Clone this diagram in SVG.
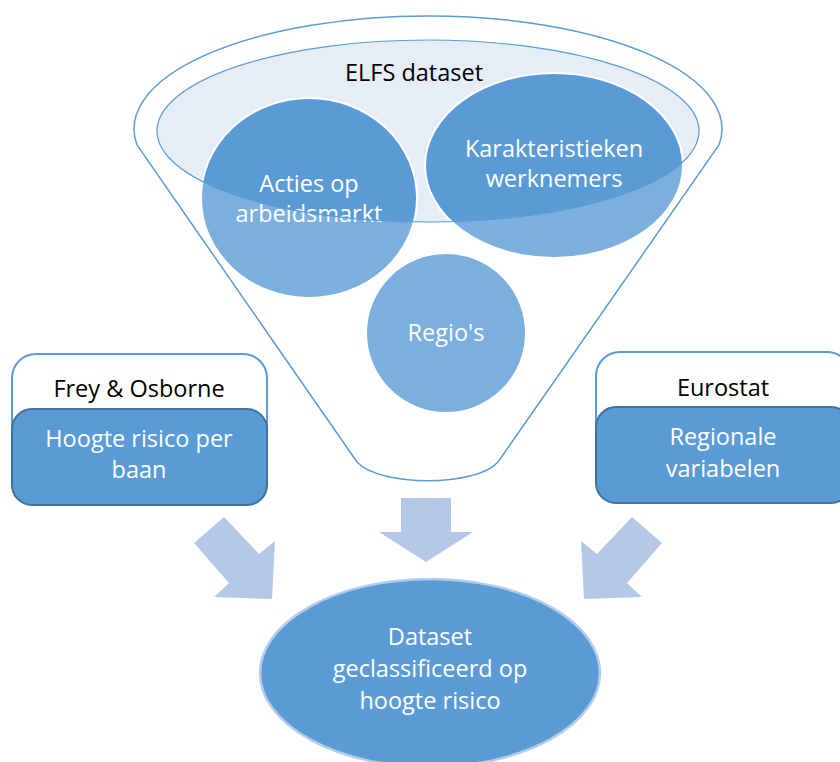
<svg xmlns="http://www.w3.org/2000/svg" width="840" height="762" viewBox="0 0 840 762">
<style>
.t{font-family:"Open Sans","Noto Sans",sans-serif;font-size:23.5px;text-anchor:middle}
.w{fill:#ffffff}
.k{fill:#000000}
.circ{fill:#5b9bd5;stroke:#ffffff;stroke-width:2}
.arrow{fill:#b4c7e7}
.outer{fill:#ffffff;stroke:#5b9bd5;stroke-width:2}
.inner{fill:#5b9bd5;stroke:#41719c;stroke-width:2}
</style>
<rect width="840" height="762" fill="#ffffff"/>
<g id="funnel">
  <path d="M137,145 A294,113 0 1,1 719,145 L498,462 C476,487 380,487 357,462 Z" fill="#ffffff"/>
  <ellipse cx="428" cy="131" rx="271" ry="91" fill="#e6edf7"/>
  <text class="t k" x="414" y="81">ELFS dataset</text>
</g>
<g id="acties">
  <ellipse class="circ" cx="309" cy="198" rx="108" ry="100"/>
  <text class="t w" x="309" y="192">Acties op</text>
  <text class="t w" x="309" y="222">arbeidsmarkt</text>
</g>
<g id="karakteristieken">
  <ellipse class="circ" cx="554" cy="165.5" rx="129" ry="92.5"/>
  <text class="t w" x="554" y="157">Karakteristieken</text>
  <text class="t w" x="554" y="187">werknemers</text>
</g>
<g id="regios">
  <circle class="circ" cx="446" cy="333" r="80"/>
  <text class="t w" x="446" y="341">Regio's</text>
</g>
<g id="funnel-overlay">
  <path fill-rule="evenodd" fill="#ffffff" fill-opacity="0.2" d="M137,145 A294,113 0 1,1 719,145 L498,462 C476,487 380,487 357,462 Z M157,131 A271,91 0 1,0 699,131 A271,91 0 1,0 157,131 Z"/>
  <ellipse cx="428" cy="131" rx="271" ry="91" fill="none" stroke="#5b9bd5" stroke-width="1.2"/>
  <path d="M137,145 A294,113 0 1,1 719,145 L498,462 C476,487 380,487 357,462 Z" fill="none" stroke="#5b9bd5" stroke-width="1.5"/>
</g>
<g id="frey">
  <rect class="outer" x="12" y="354" width="255" height="150" rx="24"/>
  <rect class="inner" x="12" y="409" width="255" height="96" rx="20"/>
  <text class="t k" x="139" y="397">Frey &amp; Osborne</text>
  <text class="t w" x="139" y="447">Hoogte risico per</text>
  <text class="t w" x="139" y="478">baan</text>
</g>
<g id="eurostat">
  <rect class="outer" x="596" y="352" width="255" height="150" rx="24"/>
  <rect class="inner" x="596" y="407" width="255" height="96" rx="20"/>
  <text class="t k" x="723" y="396">Eurostat</text>
  <text class="t w" x="723" y="445">Regionale</text>
  <text class="t w" x="723" y="477">variabelen</text>
</g>
<g id="connectors">
  <polygon class="arrow" points="224,517 259,554 275,541 272,599 214,597 229,583 194,543"/>
  <polygon class="arrow" points="401,498 451,498 451,532 473,532 426,562 379,532 401,532"/>
  <polygon class="arrow" points="632,517 662,543 627,583 642,597 584,599 581,541 597,554"/>
</g>
<g id="result">
  <ellipse cx="430" cy="673" rx="170" ry="94" fill="#5b9bd5" stroke="#b4cdea" stroke-width="2.5"/>
  <text class="t w" x="430" y="645">Dataset</text>
  <text class="t w" x="430" y="677">geclassificeerd op</text>
  <text class="t w" x="430" y="709">hoogte risico</text>
</g>
</svg>
